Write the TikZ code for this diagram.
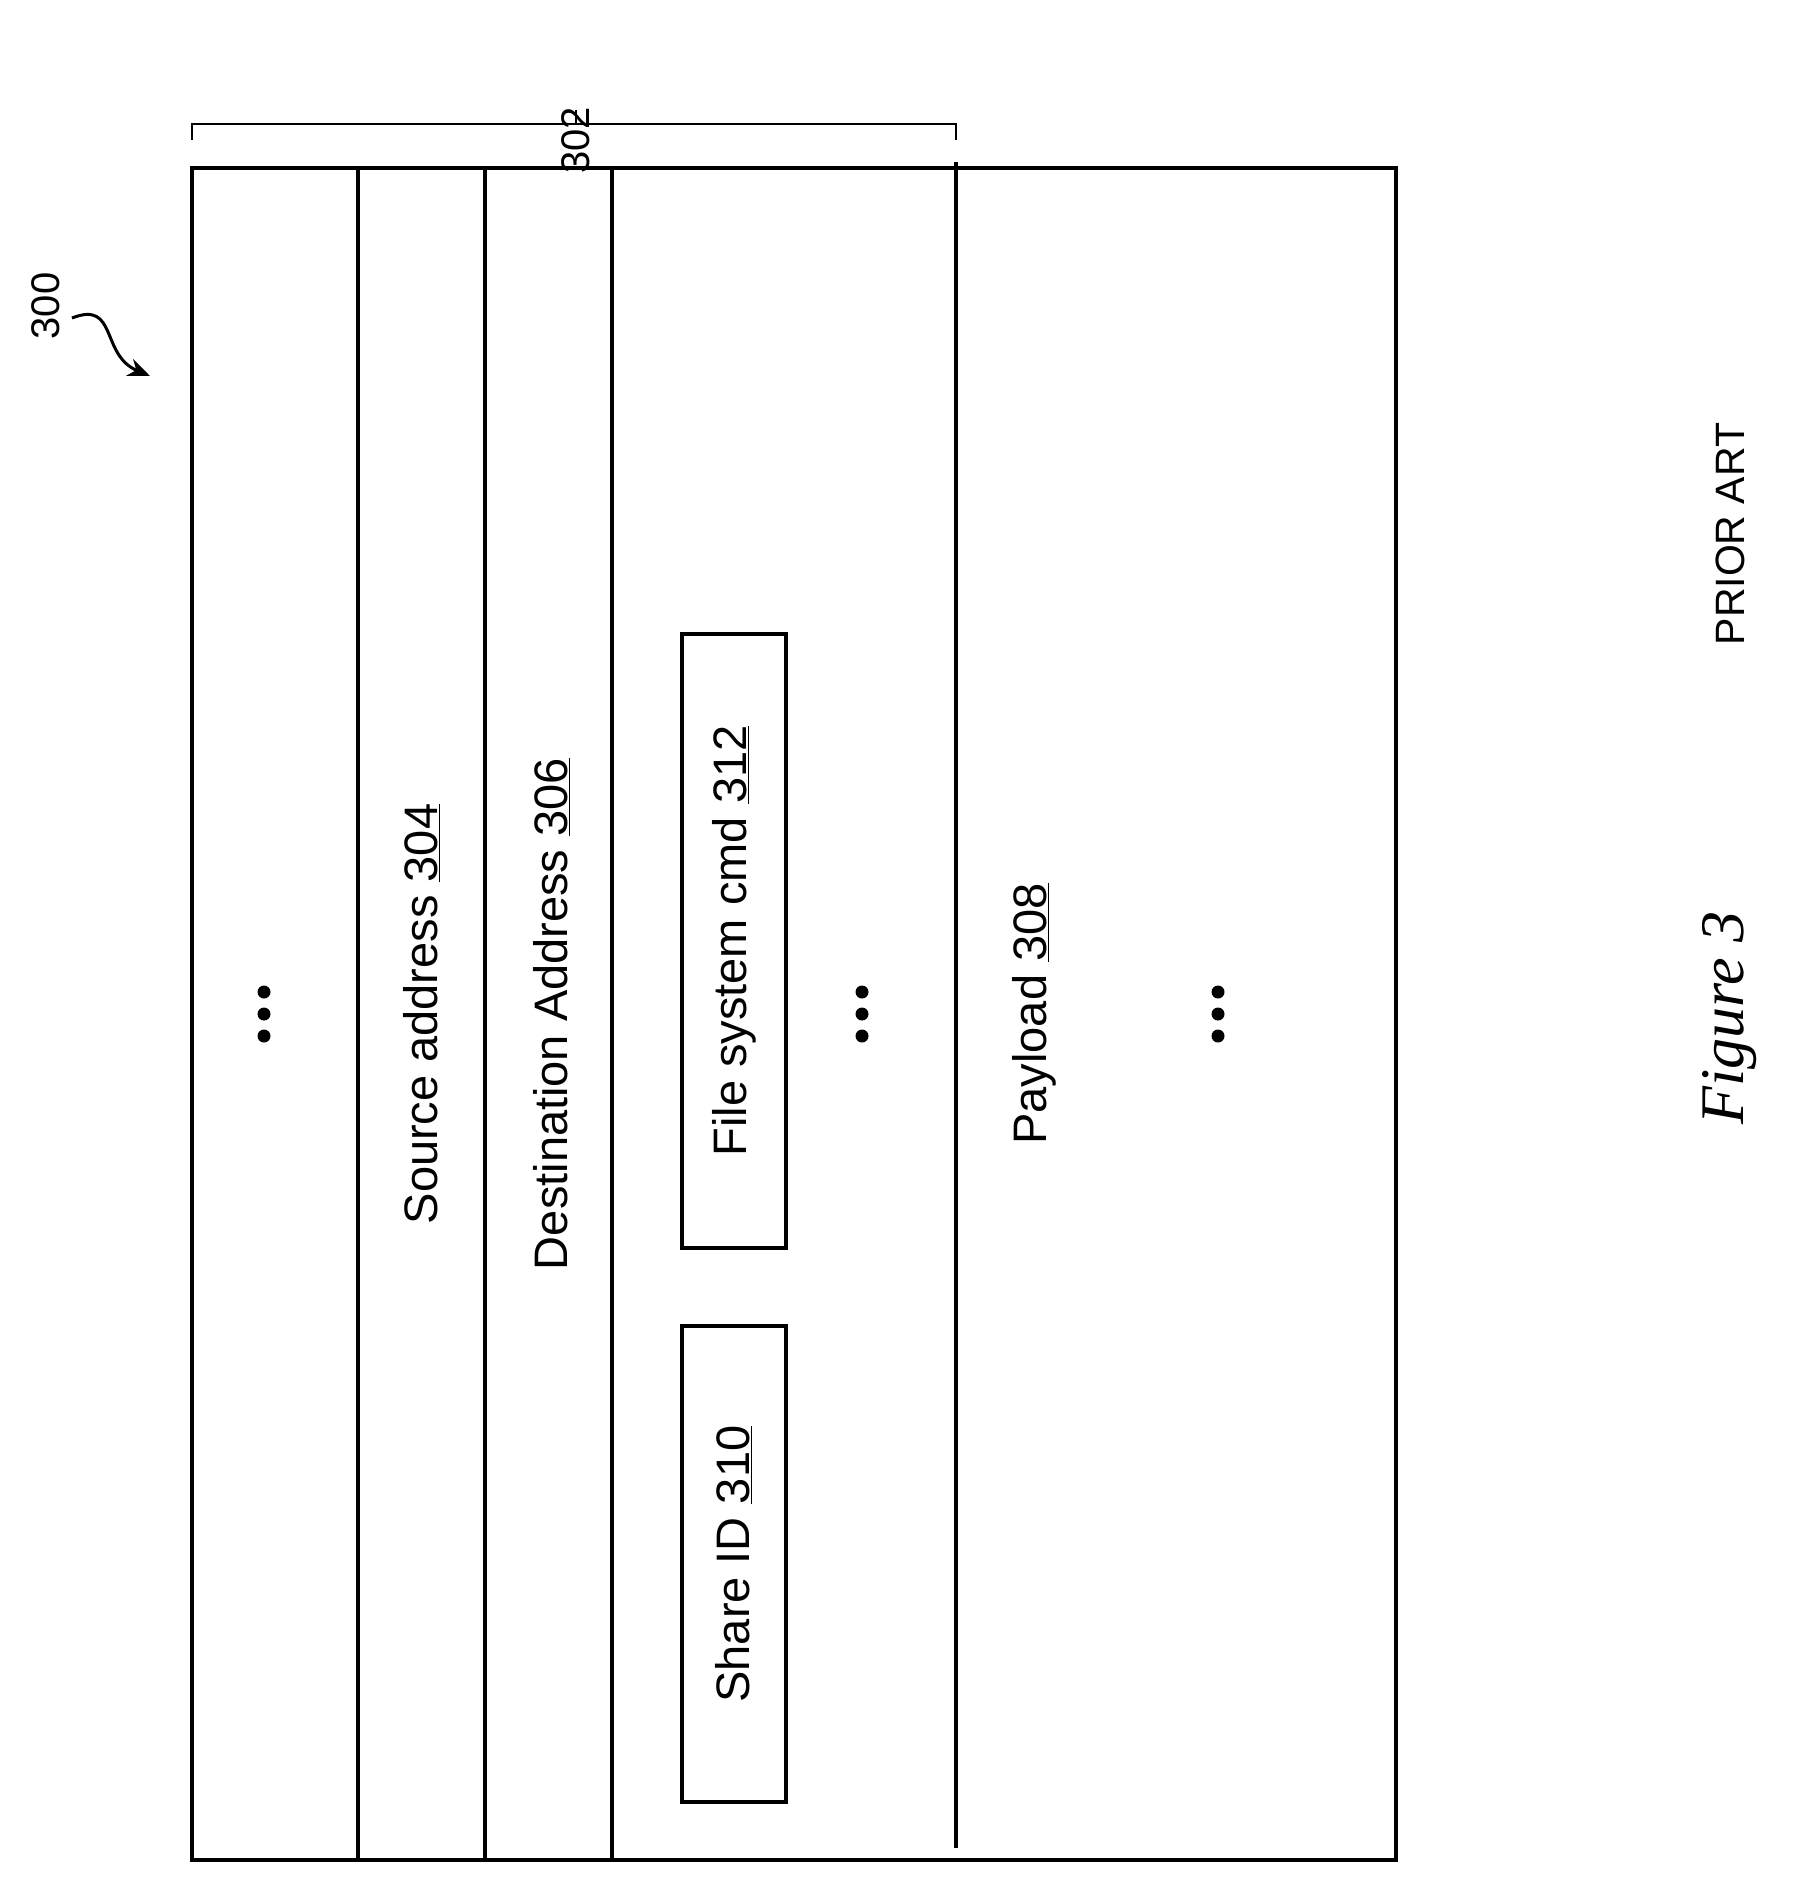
\documentclass[tikz,border=0pt]{standalone}
\usepackage{fontspec}
\setmainfont{Liberation Sans}
\newfontfamily\serifit{Liberation Serif}
\usetikzlibrary{arrows.meta}
\begin{document}
\begin{tikzpicture}[x=1pt,y=-1pt,line width=3.5pt,
  lbl/.style={rotate=90,font=\fontsize{47}{50}\selectfont,inner sep=0},
  dots/.style={rotate=90,font=\fontsize{60}{60}\selectfont,inner sep=0}]
\useasboundingbox (0,0) rectangle (1801,1894);
\draw (192,168) rectangle (1396,1860);
\foreach \x in {358,485,612} \draw (\x,168) -- (\x,1860);
\draw (956,162) -- (956,1848);
\node[draw,minimum width=104pt,minimum height=614pt,inner sep=0] (b1) at (734,941) {};
\node[draw,minimum width=104pt,minimum height=476pt,inner sep=0] (b2) at (734,1564) {};
\node[lbl] (src) at (422,1014) {Source address \underline{304}};
\node[lbl] (dst) at (552,1014) {Destination Address \underline{306}};
\node[lbl] (fs) at (b1) {File system cmd \underline{312}};
\node[lbl] (sh) at (b2) {Share ID \underline{310}};
\node[lbl] (pl) at (1034,1014) {Payload \underline{308}};
\foreach \x/\n in {264/d1,862/d2,1218/d3}
  \foreach \dy in {-22,0,22} \fill (\x,1014+\dy) circle (6.5pt);
% brace
\draw[line width=2.5pt] (192,140) -- (192,124) -- (956,124) -- (956,140);
\draw[line width=2.5pt] (576,124) -- (576,110);
\node[lbl,font=\fontsize{40}{40}\selectfont,anchor=east] (l302) at (576,105) {302};
\node[lbl,font=\fontsize{40}{40}\selectfont] (l300) at (46,306) {300};
\coordinate (a0) at (72,318);
\coordinate (a1) at (150,376);
\draw[line width=3pt,-{Stealth[length=22pt,width=18pt]}] (a0) .. controls (118,300) and (100,355) .. (a1);
\node[lbl,font=\fontsize{41}{41}\selectfont] (pa) at (1730,534) {PRIOR ART};
\node[lbl,font=\fontsize{62}{62}\selectfont\serifit\itshape] (fig) at (1730,1018) {Figure 3};
\end{tikzpicture}
\end{document}
